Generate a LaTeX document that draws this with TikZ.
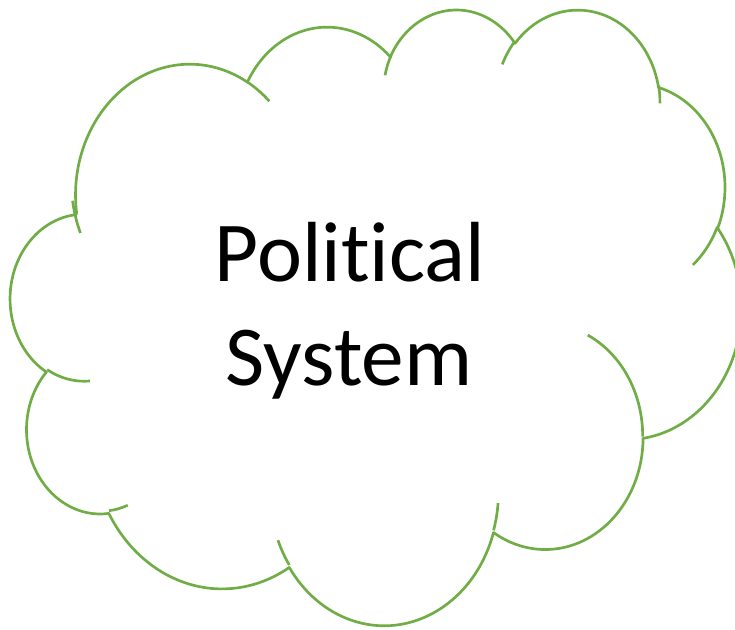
\documentclass[tikz,border=0pt]{standalone}
\usepackage{fontspec}
\setmainfont{Carlito}[Ligatures=NoCommon]
\definecolor{cloudgreen}{RGB}{112,173,71}

\begin{document}
\begin{tikzpicture}[x=0.75pt,y=-0.75pt,
  cloudline/.style={draw=cloudgreen,line width=2pt,line join=round},
  title/.style={font=\fontsize{64}{76}\selectfont,anchor=base,inner sep=0pt},
  declare function={pa(\ang,\rx,\ry)=atan2(sin(\ang)/\ry,cos(\ang)/\rx);
    pd(\ang,\swp,\rx,\ry)=mod(pa(\ang+\swp,\rx,\ry)-pa(\ang,\rx,\ry)+720,360);}]

\useasboundingbox (0,0) rectangle (735,629);

\begin{scope}[shift={(10.65,8.02)},x=12.681pt,y=-10.686pt]
% outline, lobe by lobe
\draw[cloudline] (3.9,14.37)
  \foreach \rw/\rh/\sa/\da in {6.753/9.19/-190.4875/123.7805,
      5.333/7.267/-144.1024/89.9452, 4.365/5.945/-145.8079/99.7230,
      4.857/6.595/-130.9861/117.2417, 5.333/7.273/-78.7089/109.0269,
      6.775/9.22/-46.2673/130.269, 5.785/7.867/0.625/114.0333,
      6.752/9.215/22.4516/115.1726, 7.72/10.543/66.2426/75.711,
      4.36/5.918/-274.9421/146.7356, 4.345/5.945/-246.8285/152.5189}
  { arc[start angle={pa(\sa,\rw,\rh)},delta angle={pd(\sa,\da,\rw,\rh)},
        x radius=\rw,y radius=\rh] } -- cycle;

% inner stubs
\foreach \ox/\oy/\rw/\rh/\sa/\da in {4.693/26.177/4.345/5.945/86.742/26.4295,
    6.928/34.899/4.36/5.918/73.6105/11.4475,
    16.478/39.09/6.752/9.215/137.6242/14.0811,
    28.827/34.751/6.752/9.215/6.4533/15.9984,
    34.129/22.954/5.785/7.867/-70.2924/70.9174,
    41.798/15.354/5.333/7.273/30.318/27.7515,
    38.324/5.426/4.857/6.595/-13.7443/14.8589,
    29.078/3.952/4.857/6.595/-149.1815/18.1954,
    22.141/4.72/4.365/5.945/-163.4943/17.6178,
    14/5.192/6.753/9.19/-66.707/12.3194,
    4.127/15.789/6.753/9.19/150.076/18.7961}
  \draw[cloudline] (\ox,\oy)
    arc[start angle={pa(\sa,\rw,\rh)},delta angle={pd(\sa,\da,\rw,\rh)},
        x radius=\rw,y radius=\rh];
\end{scope}

\node[title] (pol) at (350,281) {Political};
\node[title] (sys) at (349,385) {System};

\end{tikzpicture}
\end{document}
